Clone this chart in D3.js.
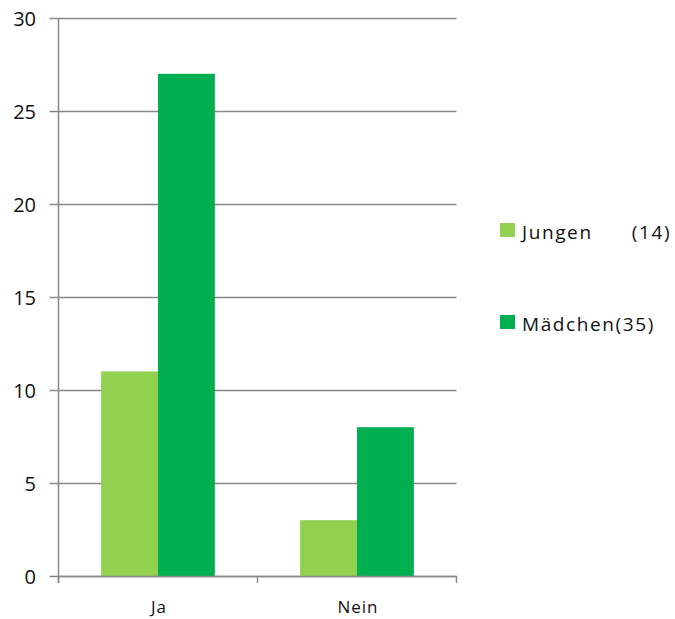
<!DOCTYPE html>
<html>
<head>
<meta charset="utf-8">
<script src="https://cdn.jsdelivr.net/npm/d3@7"></script>
<style>
  html, body { margin: 0; padding: 0; background: #fff; }
  svg { display: block; font-family: "Open Sans", sans-serif; }
</style>
</head>
<body>
<svg id="chart" width="675" height="619"></svg>
<script>
// Answers split by group
const categories = ["Ja", "Nein"];
const seriesNames = ["Jungen      (14)", "Mädchen(35)"];
const jungen = [11, 3];
const maedchen = [27, 8];
const yTicks = [0, 5, 10, 15, 20, 25, 30];
const colors = ["#92d050", "#00b050"];

const series = [jungen, maedchen];
const svg = d3.select("#chart");

const plotLeft = 58.5, plotRight = 456.5, plotTop = 18, plotBottom = 576;

const x = d3.scaleBand().domain(categories).range([plotLeft, plotRight]).paddingInner(0).paddingOuter(0);
const xs = d3.scaleBand().domain([0, 1]).range([0, x.bandwidth()]).paddingInner(0).paddingOuter(0.75);
const y = d3.scaleLinear().domain([0, 30]).range([plotBottom, plotTop]);

// horizontal grid lines with outward ticks
const gridColor = "#888888";
svg.append("g").selectAll("line").data(yTicks).join("line")
  .attr("x1", plotLeft - 9).attr("x2", plotRight)
  .attr("y1", d => Math.round(y(d)) + 0.5).attr("y2", d => Math.round(y(d)) + 0.5)
  .attr("stroke", gridColor).attr("stroke-width", 1.5);

// bars
categories.forEach((c, i) => {
  series.forEach((s, j) => {
    svg.append("rect")
      .attr("x", x(c) + xs(j))
      .attr("width", xs.bandwidth())
      .attr("y", y(s[i]))
      .attr("height", y(0) - y(s[i]))
      .attr("fill", colors[j]);
  });
});

// y axis line
svg.append("line").attr("x1", plotLeft).attr("x2", plotLeft).attr("y1", plotTop).attr("y2", plotBottom + 7)
  .attr("stroke", gridColor).attr("stroke-width", 1.5);
// x axis baseline redrawn over bars
svg.append("line").attr("x1", plotLeft).attr("x2", plotRight)
  .attr("y1", Math.round(y(0)) + 0.5).attr("y2", Math.round(y(0)) + 0.5)
  .attr("stroke", gridColor).attr("stroke-width", 1.5);
// category boundary ticks
const bounds = [plotLeft, plotLeft + x.bandwidth(), plotRight];
svg.append("g").selectAll("line").data(bounds).join("line")
  .attr("x1", d => d).attr("x2", d => d)
  .attr("y1", plotBottom).attr("y2", plotBottom + 7)
  .attr("stroke", gridColor).attr("stroke-width", 1.5);

// y tick labels
svg.append("g").selectAll("text").data(yTicks).join("text")
  .attr("x", 36).attr("y", d => y(d) + 1)
  .attr("dy", "0.35em")
  .attr("text-anchor", "end")
  .attr("font-size", 20).attr("fill", "#111")
  .text(d => d);

// category labels
svg.append("g").selectAll("text").data(categories).join("text")
  .attr("x", d => x(d) + x.bandwidth() / 2 + 1)
  .attr("y", 613)
  .attr("text-anchor", "middle")
  .attr("font-size", 17).attr("letter-spacing", 1).attr("fill", "#111")
  .text(d => d);

// legend
const legend = svg.append("g");
seriesNames.forEach((n, j) => {
  const base = 239 + j * 92;
  legend.append("rect").attr("x", 500).attr("y", base - 16).attr("width", 15).attr("height", 14).attr("fill", colors[j]);
  legend.append("text").attr("x", 522).attr("y", base)
    .attr("font-size", 19).attr("letter-spacing", 1.6).attr("fill", "#111")
    .attr("xml:space", "preserve").style("white-space", "pre")
    .text(n);
});
</script>
</body>
</html>
